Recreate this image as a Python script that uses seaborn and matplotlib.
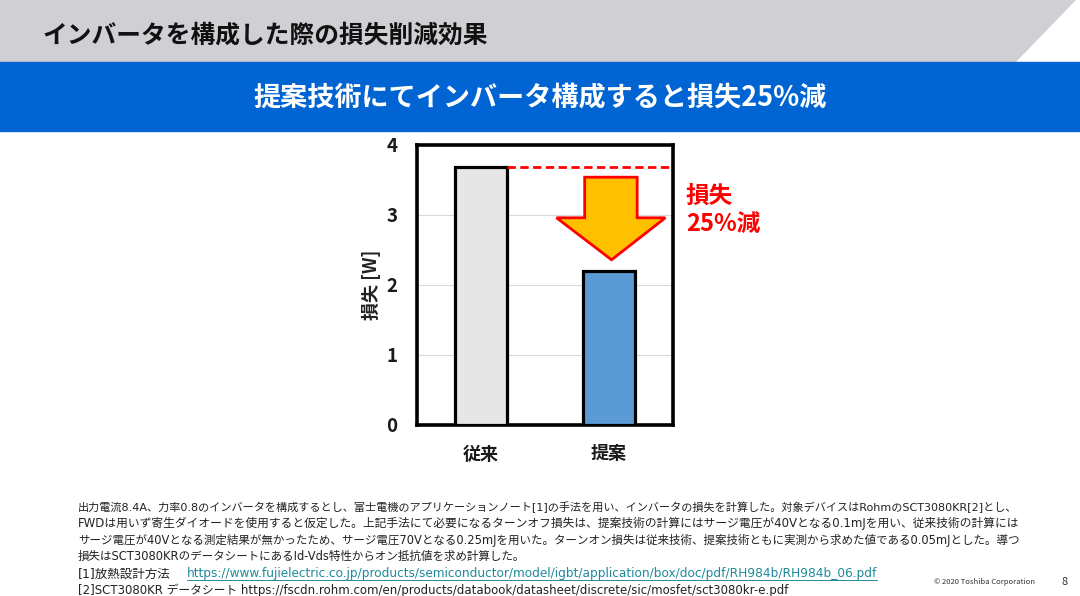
import matplotlib
matplotlib.use("Agg")
import matplotlib.pyplot as plt
from matplotlib.patches import Polygon, Rectangle
from matplotlib.lines import Line2D
import seaborn as sns

# データ
categories = ["従来", "提案"]
loss_w = [3.69, 2.2]
bar_colors = ["#e6e6e6", "#5b9bd5"]
y_ticks = [0, 1, 2, 3, 4]

page_title = "インバータを構成した際の損失削減効果"
band_title = "提案技術にてインバータ構成すると損失25%減"
reduction_label = "損失\n25%減"

notes = [
    "出力電流8.4A、力率0.8のインバータを構成するとし、富士電機のアプリケーションノート[1]の手法を用い、インバータの損失を計算した。対象デバイスはRohmのSCT3080KR[2]とし、",
    "FWDは用いず寄生ダイオードを使用すると仮定した。上記手法にて必要になるターンオフ損失は、提案技術の計算にはサージ電圧が40Vとなる0.1mJを用い、従来技術の計算には",
    "サージ電圧が40Vとなる測定結果が無かったため、サージ電圧70Vとなる0.25mJを用いた。ターンオン損失は従来技術、提案技術ともに実測から求めた値である0.05mJとした。導つ",
    "損失はSCT3080KRのデータシートにあるId-Vds特性からオン抵抗値を求め計算した。",
]
ref1_label = "[1]放熱設計方法"
ref1_url = "https://www.fujielectric.co.jp/products/semiconductor/model/igbt/application/box/doc/pdf/RH984b/RH984b_06.pdf"
ref2 = "[2]SCT3080KR データシート https://fscdn.rohm.com/en/products/databook/datasheet/discrete/sic/mosfet/sct3080kr-e.pdf"

sns.set_style("white")
plt.rcParams['font.family'] = ['Noto Sans CJK JP', 'DejaVu Sans']
note_font = ['DejaVu Sans', 'Noto Sans CJK JP']
note_size = 8.2

W, H = 1080, 596
fig = plt.figure(figsize=(W / 100, H / 100), dpi=100)

def fx(px):
    return px / W

def fy(py):
    return 1 - py / H

# 上部の帯
fig.patches.append(Polygon([(0, 1), (fx(1075), 1), (fx(1015), fy(62)), (0, fy(62))],
                           closed=True, transform=fig.transFigure, color="#d0cfd4", zorder=0))
fig.patches.append(Rectangle((0, fy(131)), 1, fy(62) - fy(131), transform=fig.transFigure,
                             color="#0064d2", zorder=0))
fig.text(fx(42), fy(36), page_title, fontsize=17.8, fontweight="bold", va="center", ha="left", color="#111111")
fig.text(0.5, fy(97), band_title, fontsize=19.5, fontweight="bold", va="center", ha="center", color="white")

# グラフ
ax = fig.add_axes([fx(417), fy(425), fx(673) - fx(417), fy(145) - fy(425)])
sns.barplot(x=categories, y=loss_w, hue=categories, palette=bar_colors, legend=False, saturation=1,
            width=0.4, edgecolor="black", linewidth=2.3, ax=ax, zorder=3)
ax.set_xlim(-0.5, 1.5)
ax.set_ylim(0, 4)
ax.set_yticks(y_ticks)
ax.yaxis.grid(True, color="#d9d9d9", linewidth=0.8, zorder=0)
ax.xaxis.grid(False)
for s in ax.spines.values():
    s.set_visible(True)
    s.set_color("black")
    s.set_linewidth(2.6)
ax.tick_params(axis="y", length=0, pad=14, labelsize=13.5, labelcolor="#1a1a1a")
ax.tick_params(axis="x", length=0, pad=14, labelsize=13, labelcolor="#1a1a1a")
for lab in ax.get_xticklabels() + ax.get_yticklabels():
    lab.set_fontweight("bold")
ax.set_ylabel("損失 [W]", fontsize=13, fontweight="bold", labelpad=4, color="#222222")
ax.set_xlabel("")

# 破線 (従来の値)
ax.plot([0.2, 1.5], [loss_w[0], loss_w[0]], color="#ff0000", linestyle=(0, (3, 1.6)),
        linewidth=2, zorder=4, clip_on=False)

# 矢印
top = loss_w[0] - 0.15
tip = loss_w[1] + 0.16
base = tip + 0.6
arrow = [(0.81, top), (1.22, top), (1.22, base), (1.44, base), (1.02, tip),
         (0.59, base), (0.81, base)]
ax.add_patch(Polygon(arrow, closed=True, facecolor="#ffc000", edgecolor="#ff0000",
                     linewidth=2, zorder=5, joinstyle="miter"))

ax.text(1.6, 3.07, reduction_label, fontsize=17, fontweight="bold", color="#ff0000",
        ha="left", va="center", linespacing=1.2, clip_on=False)

# 注記 (元スライドの行幅に合わせてサイズを微調整)
r = fig.canvas.get_renderer()

def note(x0, x1, y, s, color="#222222"):
    t = fig.text(fx(x0), fy(y), s, fontsize=note_size, va="center", ha="left", color=color, family=note_font)
    w = t.get_window_extent(r).width
    t.set_fontsize(min(9.0, note_size * (x1 - x0) / w))
    return t

note(78, 1016, 507, notes[0])
note(78, 1017, 523, notes[1])
note(78, 1019, 540, notes[2])
note(78, 527, 556, notes[3])
note(78, 174, 574, ref1_label)
link = note(187, 876, 574, ref1_url, color="#1f8a9a")
note(78, 790, 590, ref2)
fig.canvas.draw()
lb = link.get_window_extent(r)
fig.lines.append(Line2D([lb.x0 / W, lb.x1 / W], [(lb.y0 + 1) / H] * 2, transform=fig.transFigure,
                        color="#1f8a9a", linewidth=0.7))

fig.text(fx(1035), fy(582), "© 2020 Toshiba Corporation", fontsize=5.5, ha="right", va="center", color="#333333")
fig.text(fx(1065), fy(582), "8", fontsize=8, ha="center", va="center", color="#333333")

fig.savefig("out.png", dpi=100)
